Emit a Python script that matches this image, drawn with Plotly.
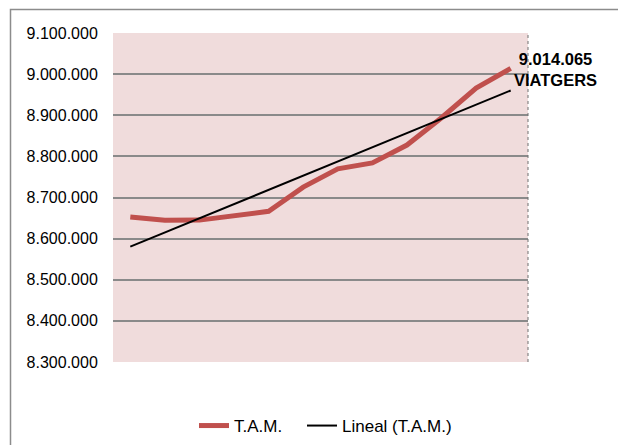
import numpy as np
import plotly.graph_objects as go

periods = list(range(1, 13))
tam_values = [8652800, 8644500, 8645000, 8654700, 8666400, 8725300,
              8769600, 8784200, 8827500, 8894000, 8966000, 9014065]
y_ticks = [8300000, 8400000, 8500000, 8600000, 8700000, 8800000, 8900000, 9000000, 9100000]
series_names = ["T.A.M.", "Lineal (T.A.M.)"]
label_text = "9.014.065<br>VIATGERS"

coef = np.polyfit(periods, tam_values, 1)
trend = [coef[0] * p + coef[1] for p in periods]

FONT = "Liberation Sans, Arial, sans-serif"

# the page body has an 8px margin, so the figure starts at (8, 8)
L, T, PW, PH = 105, 25, 415, 329
W, H = 618, 480

def px_x(page_x):
    return (page_x - 8 - L) / PW

def px_y(page_y):
    return (T + PH - (page_y - 8)) / PH

fig = go.Figure()
fig.add_trace(go.Scatter(x=periods, y=tam_values, mode="lines", name=series_names[0],
                         line=dict(color="#C0504D", width=5), legend="legend"))
fig.add_trace(go.Scatter(x=periods, y=trend, mode="lines", name=series_names[1],
                         line=dict(color="#000000", width=2), legend="legend2"))

fig.add_annotation(x=periods[-1], y=tam_values[-1], text="<b>" + label_text + "</b>",
                   showarrow=False, xanchor="left", yanchor="middle", xshift=1, yshift=-1,
                   align="center", font=dict(family=FONT, size=16.5, color="#000000"))

# outer chart frame
fig.add_shape(type="rect", xref="paper", yref="paper",
              x0=px_x(10.5), x1=px_x(650), y0=px_y(480), y1=px_y(9.5),
              line=dict(color="#8C8C8C", width=1.5), layer="below")
# right plot border dotted
fig.add_shape(type="line", xref="paper", yref="paper", x0=1, x1=1, y0=0, y1=1,
              line=dict(color="#707070", width=1, dash="dot"))

legend_style = dict(orientation="h", yanchor="middle", xanchor="left",
                    font=dict(family=FONT, size=17, color="#000000"),
                    bgcolor="rgba(0,0,0,0)", itemwidth=30)

fig.update_layout(
    width=W, height=H,
    margin=dict(l=L, r=W - L - PW, t=T, b=H - T - PH),
    paper_bgcolor="#FFFFFF",
    plot_bgcolor="#F0DCDC",
    separators=",.",
    font=dict(family=FONT, size=16, color="#000000"),
    showlegend=True,
    legend=dict(x=px_x(194), y=px_y(426), **legend_style),
    legend2=dict(x=px_x(302), y=px_y(426), **legend_style),
)
fig.update_xaxes(range=[0.5, 12.5], showticklabels=False, showgrid=False,
                 zeroline=False, showline=False, ticks="")
fig.update_yaxes(range=[8300000, 9100000], tickvals=y_ticks, tickformat=",d",
                 showgrid=True, gridcolor="#8A8A8A", gridwidth=2, zeroline=False,
                 showline=False, ticks="outside", ticklen=11, tickcolor="rgba(0,0,0,0)",
                 tickfont=dict(family=FONT, size=16, color="#000000"))

fig.write_html("out.html")
